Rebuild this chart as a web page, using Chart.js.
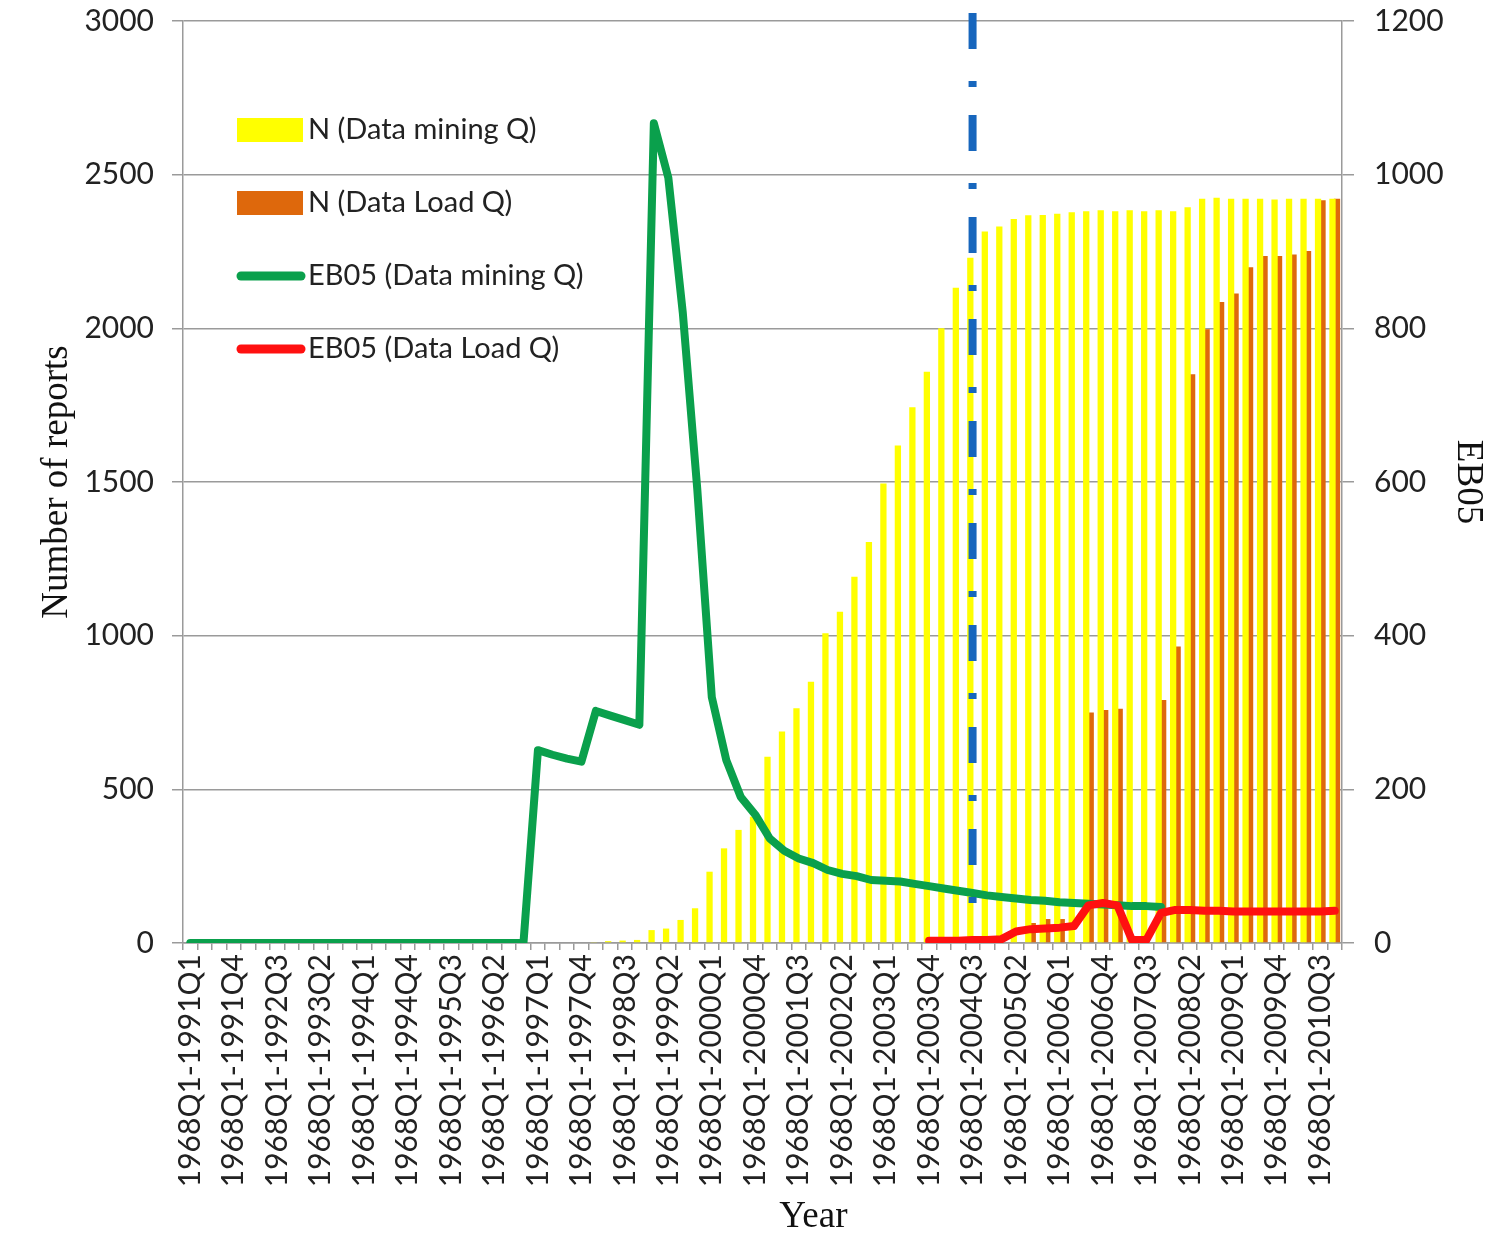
<!DOCTYPE html>
<html>
<head>
<meta charset="utf-8">
<script src="https://cdn.jsdelivr.net/npm/chart.js@4.4.0/dist/chart.umd.min.js"></script>
<style>
  body { margin: 0; background: #fff; }
  #wrap { width: 1500px; height: 1244px; }
</style>
</head>
<body>
<div id="wrap"><canvas id="chart"></canvas></div>
<script>
// quarters, cumulative from 1968Q1
var quarters = [
  '1968Q1-1991Q1', '1968Q1-1991Q2', '1968Q1-1991Q3', '1968Q1-1991Q4',
  '1968Q1-1992Q1', '1968Q1-1992Q2', '1968Q1-1992Q3', '1968Q1-1992Q4',
  '1968Q1-1993Q1', '1968Q1-1993Q2', '1968Q1-1993Q3', '1968Q1-1993Q4',
  '1968Q1-1994Q1', '1968Q1-1994Q2', '1968Q1-1994Q3', '1968Q1-1994Q4',
  '1968Q1-1995Q1', '1968Q1-1995Q2', '1968Q1-1995Q3', '1968Q1-1995Q4',
  '1968Q1-1996Q1', '1968Q1-1996Q2', '1968Q1-1996Q3', '1968Q1-1996Q4',
  '1968Q1-1997Q1', '1968Q1-1997Q2', '1968Q1-1997Q3', '1968Q1-1997Q4',
  '1968Q1-1998Q1', '1968Q1-1998Q2', '1968Q1-1998Q3', '1968Q1-1998Q4',
  '1968Q1-1999Q1', '1968Q1-1999Q2', '1968Q1-1999Q3', '1968Q1-1999Q4',
  '1968Q1-2000Q1', '1968Q1-2000Q2', '1968Q1-2000Q3', '1968Q1-2000Q4',
  '1968Q1-2001Q1', '1968Q1-2001Q2', '1968Q1-2001Q3', '1968Q1-2001Q4',
  '1968Q1-2002Q1', '1968Q1-2002Q2', '1968Q1-2002Q3', '1968Q1-2002Q4',
  '1968Q1-2003Q1', '1968Q1-2003Q2', '1968Q1-2003Q3', '1968Q1-2003Q4',
  '1968Q1-2004Q1', '1968Q1-2004Q2', '1968Q1-2004Q3', '1968Q1-2004Q4',
  '1968Q1-2005Q1', '1968Q1-2005Q2', '1968Q1-2005Q3', '1968Q1-2005Q4',
  '1968Q1-2006Q1', '1968Q1-2006Q2', '1968Q1-2006Q3', '1968Q1-2006Q4',
  '1968Q1-2007Q1', '1968Q1-2007Q2', '1968Q1-2007Q3', '1968Q1-2007Q4',
  '1968Q1-2008Q1', '1968Q1-2008Q2', '1968Q1-2008Q3', '1968Q1-2008Q4',
  '1968Q1-2009Q1', '1968Q1-2009Q2', '1968Q1-2009Q3', '1968Q1-2009Q4',
  '1968Q1-2010Q1', '1968Q1-2010Q2', '1968Q1-2010Q3', '1968Q1-2010Q4'
]

// N (Data mining Q) - left axis
var nMining = [
  0, 0, 0, 0,   0, 0, 0, 0,   0, 0, 0, 0,   0, 0, 0, 0,
  0, 0, 0, 0,   0, 0, 0, 0,   0, 0, 0, 0,   3, 6, 8, 10,
  42, 47, 75, 113,
  232, 308, 368, 411,
  606, 688, 764, 850,
  1008, 1078, 1192, 1305,
  1495, 1619, 1743, 1859,
  2000, 2132, 2230, 2315,
  2331, 2356, 2368, 2369,
  2373, 2378, 2381, 2384,
  2381, 2384, 2381, 2384,
  2381, 2394, 2422, 2425,
  2422, 2422, 2422, 2419,
  2422, 2422, 2422, 2422
]

// N (Data Load Q) - left axis
var nLoad = [
  0, 0, 0, 0,   0, 0, 0, 0,   0, 0, 0, 0,   0, 0, 0, 0,
  0, 0, 0, 0,   0, 0, 0, 0,   0, 0, 0, 0,   0, 0, 0, 0,
  0, 0, 0, 0,   0, 0, 0, 0,   0, 0, 0, 0,   0, 0, 0, 0,
  0, 0, 0, 0,   0, 0, 0, 0,
  0, 0, 65, 78,
  78, 0, 750, 758,
  762, 0, 0, 791,
  965, 1851, 1997, 2086,
  2113, 2199, 2235, 2235,
  2240, 2252, 2417, 2422
]

// EB05 (Data mining Q) - right axis
var ebMining = [
  0, 0, 0, 0,   0, 0, 0, 0,   0, 0, 0, 0,   0, 0, 0, 0,
  0, 0, 0, 0,   0, 0, 0, 0,
  251, 245, 240, 236,
  302, 296, 290, 284,
  1067, 996, 820, 590,
  320, 238, 190, 167,
  136, 120, 110, 104,
  95, 90, 87, 82,
  81, 80, 77, 74,
  71, 68, 65, 62,
  60, 58, 56, 55,
  53, 52, 51, 50,
  49, 48, 48, 47,
  null, null, null, null,
  null, null, null, null,
  null, null, null, null
]

// EB05 (Data Load Q) - right axis
var ebLoad = [
  null, null, null, null,   null, null, null, null,   null, null, null, null,
  null, null, null, null,   null, null, null, null,   null, null, null, null,
  null, null, null, null,   null, null, null, null,   null, null, null, null,
  null, null, null, null,   null, null, null, null,   null, null, null, null,
  null, null, null, 3,
  3, 3, 4, 4,
  5, 15, 18, 19,
  20, 22, 49, 52,
  49, 4, 4, 39,
  43, 43, 42, 42,
  41, 41, 41, 41,
  41, 41, 41, 42
]

var markerQuarter = '1968Q1-2004Q3'   // dash-dot vertical marker
var markerEnd = 120                   // in "Number of reports" units

var labelFont = 'Lato'
var titleFont = 'Liberation Serif'

// === legend drawn inside the plot, top left ===
var insideLegend = {
  id: 'insideLegend',
  afterDatasetsDraw: function(chart) {
    var ctx = chart.ctx
    var area = chart.chartArea
    var x = area.left + 54
    var y = area.top + 109
    ctx.save()
    ctx.font = '29px ' + labelFont
    ctx.textBaseline = 'middle'
    ctx.textAlign = 'left'
    chart.data.datasets.forEach(function(ds, i) {
      var cy = y + i * 73
      if (ds.type === 'line') {
        ctx.strokeStyle = ds.borderColor
        ctx.lineWidth = 9
        ctx.lineCap = 'round'
        ctx.beginPath()
        ctx.moveTo(x + 4, cy)
        ctx.lineTo(x + 64, cy)
        ctx.stroke()
      } else {
        ctx.fillStyle = ds.backgroundColor
        ctx.fillRect(x, cy - 12, 66, 24)
      }
      ctx.fillStyle = '#222'
      ctx.fillText(ds.label, x + 71, cy)
    })
    ctx.restore()
  }
}

// === blue dash-dot marker line ===
var markerLine = {
  id: 'markerLine',
  afterDatasetsDraw: function(chart) {
    var ctx = chart.ctx
    var xs = chart.scales.x
    var x = xs.getPixelForValue(quarters.indexOf(markerQuarter))
    var yTop = chart.chartArea.top - 8
    var yBot = chart.scales.y.getPixelForValue(markerEnd)
    ctx.save()
    ctx.strokeStyle = '#1766bd'
    ctx.lineWidth = 8
    ctx.setLineDash([36, 32, 6, 28])
    ctx.beginPath()
    ctx.moveTo(x, yTop)
    ctx.lineTo(x, yBot)
    ctx.stroke()
    ctx.restore()
  }
}

function plainNumber(value) {
  return String(value)
}

// fixed axis widths, no extra label padding above the plot
function fixWidth(w) {
  return function(scale) {
    scale.width = w
    scale.paddingTop = 0
    scale.paddingBottom = 0
  }
}

var ctx = document.getElementById('chart').getContext('2d')

var config = {
  type: 'bar',
  data: {
    labels: quarters,
    datasets: [{
      type: 'bar',
      label: 'N (Data mining Q)',
      data: nMining,
      backgroundColor: '#ffff00',
      yAxisID: 'y',
      order: 2,
      categoryPercentage: 0.62,
      barPercentage: 1.4
    }, {
      type: 'bar',
      label: 'N (Data Load Q)',
      data: nLoad,
      backgroundColor: '#de680c',
      yAxisID: 'y',
      order: 3,
      categoryPercentage: 0.62,
      barPercentage: 1.4
    }, {
      type: 'line',
      label: 'EB05 (Data mining Q)',
      data: ebMining,
      borderColor: '#0aa04c',
      borderWidth: 8,
      borderJoinStyle: 'round',
      borderCapStyle: 'round',
      pointRadius: 0,
      tension: 0,
      yAxisID: 'y1',
      order: 1
    }, {
      type: 'line',
      label: 'EB05 (Data Load Q)',
      data: ebLoad,
      borderColor: '#ff1010',
      borderWidth: 8,
      borderJoinStyle: 'round',
      borderCapStyle: 'round',
      pointRadius: 0,
      tension: 0,
      yAxisID: 'y1',
      order: 0
    }]
  },
  options: {
    responsive: true,
    maintainAspectRatio: false,
    animation: false,
    layout: {
      padding: { top: 21, left: 0, right: 0, bottom: 0 }
    },
    plugins: {
      legend: { display: false },
      tooltip: { enabled: false }
    },
    scales: {
      x: {
        offset: true,
        grid: {
          offset: true,
          drawOnChartArea: false,
          color: '#9a9a9a',
          lineWidth: 1.5,
          tickLength: 7
        },
        border: { color: '#9a9a9a', width: 1.5 },
        ticks: {
          autoSkip: false,
          minRotation: 90,
          maxRotation: 90,
          padding: 4,
          color: '#222',
          font: { family: labelFont, size: 30 },
          callback: function(value, index) {
            return index % 3 === 0 ? this.getLabelForValue(value) : ''
          }
        },
        title: {
          display: true,
          text: '           Year',
          color: '#111',
          font: { family: titleFont, size: 37 },
          padding: { top: 0, bottom: 5 }
        },
        afterFit: function(scale) { scale.height = 301 }
      },
      y: {
        position: 'left',
        min: 0,
        max: 3000,
        ticks: {
          stepSize: 500,
          padding: 18,
          color: '#222',
          font: { family: labelFont, size: 30 },
          callback: plainNumber
        },
        grid: { color: '#9a9a9a', lineWidth: 1.5, tickLength: 11 },
        border: { color: '#9a9a9a', width: 1.5 },
        title: {
          display: true,
          text: 'Number of reports',
          color: '#111',
          font: { family: titleFont, size: 37 },
          padding: { top: 35, bottom: 0 }
        },
        afterFit: fixWidth(183)
      },
      y1: {
        position: 'right',
        min: 0,
        max: 1200,
        ticks: {
          stepSize: 200,
          padding: 20,
          color: '#222',
          font: { family: labelFont, size: 30 },
          callback: plainNumber
        },
        grid: { drawOnChartArea: false, color: '#9a9a9a', lineWidth: 1.5, tickLength: 12 },
        border: { color: '#9a9a9a', width: 1.5 },
        title: {
          display: true,
          text: 'EB05',
          color: '#111',
          font: { family: titleFont, size: 37 },
          padding: { top: 10, bottom: 0 }
        },
        afterFit: fixWidth(158)
      }
    }
  },
  plugins: [markerLine, insideLegend]
}

new Chart(ctx, config)
</script>
</body>
</html>
